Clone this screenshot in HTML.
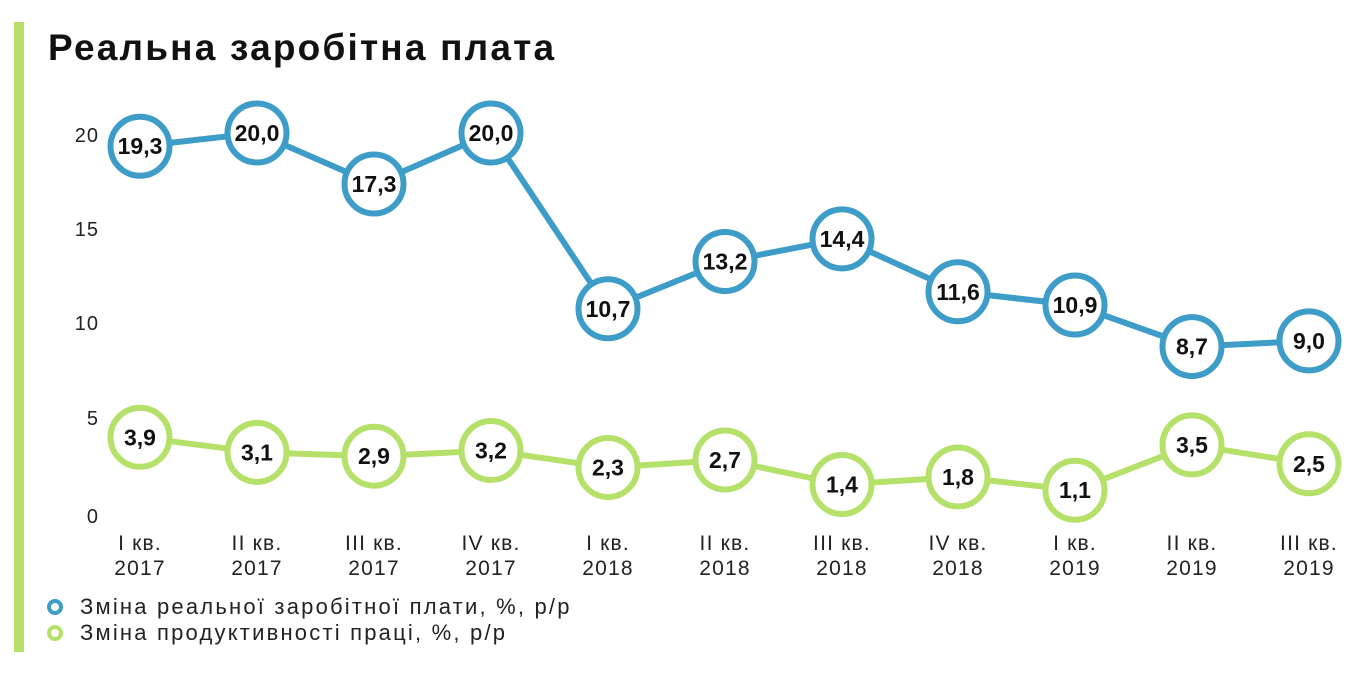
<!DOCTYPE html>
<html><head><meta charset="utf-8"><style>
body{margin:0;background:#fff;width:1355px;height:673px;overflow:hidden;font-family:"Liberation Sans",sans-serif}
</style></head><body>
<svg width="1355" height="673" xmlns="http://www.w3.org/2000/svg" font-family="Liberation Sans, sans-serif">
<rect x="14" y="22" width="10" height="630" fill="#b5e06a"/>
<text x="48" y="60" font-size="37" font-weight="bold" fill="#111" letter-spacing="2.2">Реальна заробітна плата</text>
<g font-size="20" fill="#222" text-anchor="end" letter-spacing="1">
<text x="99" y="142">20</text><text x="99" y="236">15</text><text x="99" y="330">10</text><text x="99" y="425">5</text><text x="99" y="523">0</text>
</g>
<g font-size="21" fill="#222" text-anchor="middle" id="xl" letter-spacing="1.2"></g>
<polyline fill="none" stroke="#3d9dc8" stroke-width="6" id="bl"/>
<polyline fill="none" stroke="#b5e06a" stroke-width="6" id="gl"/>
<g id="pts"></g>
<circle cx="55" cy="607" r="6" fill="none" stroke="#3d9dc8" stroke-width="4"/>
<circle cx="55" cy="633" r="6" fill="none" stroke="#b5e06a" stroke-width="4"/>
<text x="80" y="614" font-size="22" fill="#222" letter-spacing="2.2">Зміна реальної заробітної плати, %, р/р</text>
<text x="80" y="640" font-size="22" fill="#222" letter-spacing="2.2">Зміна продуктивності праці, %, р/р</text>
</svg>
<script>
var ns="http://www.w3.org/2000/svg";
var xs=[140,257,374,491,608,725,842,958,1075,1192,1309];
var b=[19.3,20.0,17.3,20.0,10.7,13.2,14.4,11.6,10.9,8.7,9.0];
var g=[3.9,3.1,2.9,3.2,2.3,2.7,1.4,1.8,1.1,3.5,2.5];
var q=["I","II","III","IV","I","II","III","IV","I","II","III"];
var yr=["2017","2017","2017","2017","2018","2018","2018","2018","2019","2019","2019"];
function Y(v){return 511-v*18.9}
function el(t,a,p){var e=document.createElementNS(ns,t);for(var k in a)e.setAttribute(k,a[k]);p.appendChild(e);return e}
document.getElementById("bl").setAttribute("points",xs.map((x,i)=>x+","+Y(b[i])).join(" "));
document.getElementById("gl").setAttribute("points",xs.map((x,i)=>x+","+Y(g[i])).join(" "));
var P=document.getElementById("pts"),X=document.getElementById("xl");
function pt(x,v,c){el("circle",{cx:x,cy:Y(v),r:29.5,fill:"#fff",stroke:c,"stroke-width":6},P);
var t=el("text",{x:x,y:Y(v)+8,"font-size":23,"font-weight":"bold","text-anchor":"middle",fill:"#111"},P);t.textContent=v.toFixed(1).replace(".",",");}
xs.forEach((x,i)=>{pt(x,b[i],"#3d9dc8");pt(x,g[i],"#b5e06a");
var t=el("text",{x:x,y:550},X);t.textContent=q[i]+" кв.";
t=el("text",{x:x,y:575},X);t.textContent=yr[i];});
</script>
</body></html>
